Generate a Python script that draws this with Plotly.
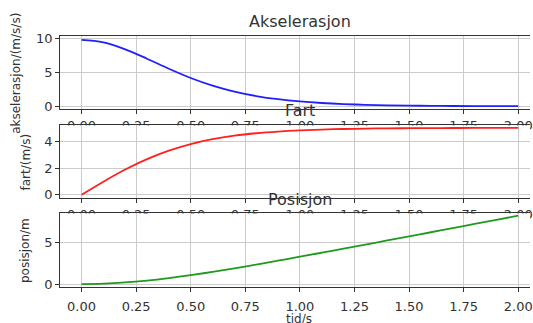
import plotly.graph_objects as go

# time samples (s)
tid = [0.0, 0.1, 0.2, 0.3, 0.4, 0.5, 0.6, 0.7, 0.8, 0.9, 1.0,
       1.1, 1.2, 1.3, 1.4, 1.5, 1.6, 1.7, 1.8, 1.9, 2.0]
# acceleration (m/s/s)
akselerasjon = [9.8, 9.43, 8.41, 7.02, 5.54, 4.18, 3.05, 2.17, 1.52, 1.05, 0.72,
                0.49, 0.33, 0.225, 0.152, 0.103, 0.069, 0.047, 0.031, 0.021, 0.014]
# velocity (m/s)
fart = [0.0, 0.977, 1.883, 2.663, 3.298, 3.786, 4.149, 4.412, 4.596, 4.724, 4.814,
        4.873, 4.914, 4.942, 4.961, 4.973, 4.982, 4.987, 4.991, 4.994, 4.996]
# position (m)
posisjon = [0.0, 0.049, 0.191, 0.417, 0.714, 1.066, 1.459, 1.884, 2.330, 2.792, 3.265,
            3.744, 4.229, 4.717, 5.207, 5.699, 6.192, 6.685, 7.179, 7.674, 8.168]

xticks = [0.0, 0.25, 0.5, 0.75, 1.0, 1.25, 1.5, 1.75, 2.0]
xticklabels = ["0.00", "0.25", "0.50", "0.75", "1.00", "1.25", "1.50", "1.75", "2.00"]
titles = ["Akselerasjon", "Fart", "Posisjon"]
ylabels = ["akselerasjon/(m/s/s)", "fart/(m/s)", "posisjon/m"]
yticks = [[0, 5, 10], [0, 2, 4], [0, 5]]
xlabel = "tid/s"

W, H = 533, 323
FONT = "DejaVu Sans"
TXT = "#333333"

def py(p):
    return 1 - p / H

# pixel layout of the three axes (top, bottom)
rows = [(32.5, 107.7), (124.0, 199.3), (215.0, 291.0)]
yranges = [[-0.45, 10.3], [-0.25, 5.2], [-0.35, 8.45]]
xrange_ = [-0.098, 2.054]
x_left = 60.5 / W
standoffs = [0, 0, 3]

fig = go.Figure()
series = [akselerasjon, fart, posisjon]
colors = ["#2020ff", "#ff2020", "#1e9a1e"]
shapes = []

for i in range(3):
    sfx = "" if i == 0 else str(i + 1)
    fig.add_trace(go.Scatter(x=tid, y=series[i], mode="lines",
                             line=dict(color=colors[i], width=1.8, shape="spline"),
                             xaxis="x" + sfx, yaxis="y" + sfx, hoverinfo="skip",
                             showlegend=False))
    top, bot = rows[i]
    fig.layout["xaxis" + sfx] = dict(
        domain=[x_left, 1.0], range=xrange_, anchor="y" + sfx,
        tickvals=xticks, ticktext=xticklabels, ticks="outside", ticklen=4,
        tickcolor="#333", tickwidth=1, showline=True, linecolor="#333",
        linewidth=1, mirror=True, showgrid=True, gridcolor="#cccccc",
        gridwidth=1, zeroline=False, ticklabeloverflow="allow",
        ticklabelstandoff=standoffs[i],
        tickfont=dict(family=FONT, size=13, color=TXT))
    fig.layout["yaxis" + sfx] = dict(
        domain=[py(bot), py(top)], range=yranges[i], anchor="x" + sfx,
        tickvals=yticks[i], ticks="outside", ticklen=4, tickcolor="#333",
        tickwidth=1, showline=True, linecolor="#333", linewidth=1,
        showgrid=True, gridcolor="#cccccc", gridwidth=1, zeroline=False,
        tickfont=dict(family=FONT, size=13, color=TXT))
    if i > 0:
        # white axes background that hides the tick labels of the axes above
        shapes.append(dict(type="rect", xref="x" + sfx, yref="y" + sfx,
                           x0=xrange_[0], x1=xrange_[1],
                           y0=yranges[i][0], y1=yranges[i][1],
                           fillcolor="white", line=dict(width=0), layer="below"))

annotations = []
title_y = [17, 109, 201]
label_x = [16, 26, 25]
for i in range(3):
    top, bot = rows[i]
    annotations.append(dict(text=titles[i], x=302 / W, y=py(title_y[i]),
                            xref="paper", yref="paper", xanchor="center",
                            yanchor="middle", showarrow=False,
                            font=dict(family=FONT, size=16, color=TXT)))
    annotations.append(dict(text=ylabels[i], x=label_x[i] / W,
                            y=py((top + bot) / 2), xref="paper", yref="paper",
                            xanchor="center", yanchor="middle", textangle=-90,
                            showarrow=False,
                            font=dict(family=FONT, size=12, color=TXT)))
annotations.append(dict(text=xlabel, x=301 / W, y=py(315), xref="paper",
                        yref="paper", xanchor="center", yanchor="top",
                        showarrow=False, font=dict(family=FONT, size=12, color=TXT)))

fig.update_layout(width=W, height=H, margin=dict(l=0, r=0, t=0, b=0),
                  paper_bgcolor="white", plot_bgcolor="white",
                  annotations=annotations, shapes=shapes, showlegend=False)

fig.write_html("out.html", config={"displayModeBar": False},
               post_script="document.body.style.margin='0';document.body.style.overflow='hidden';")
